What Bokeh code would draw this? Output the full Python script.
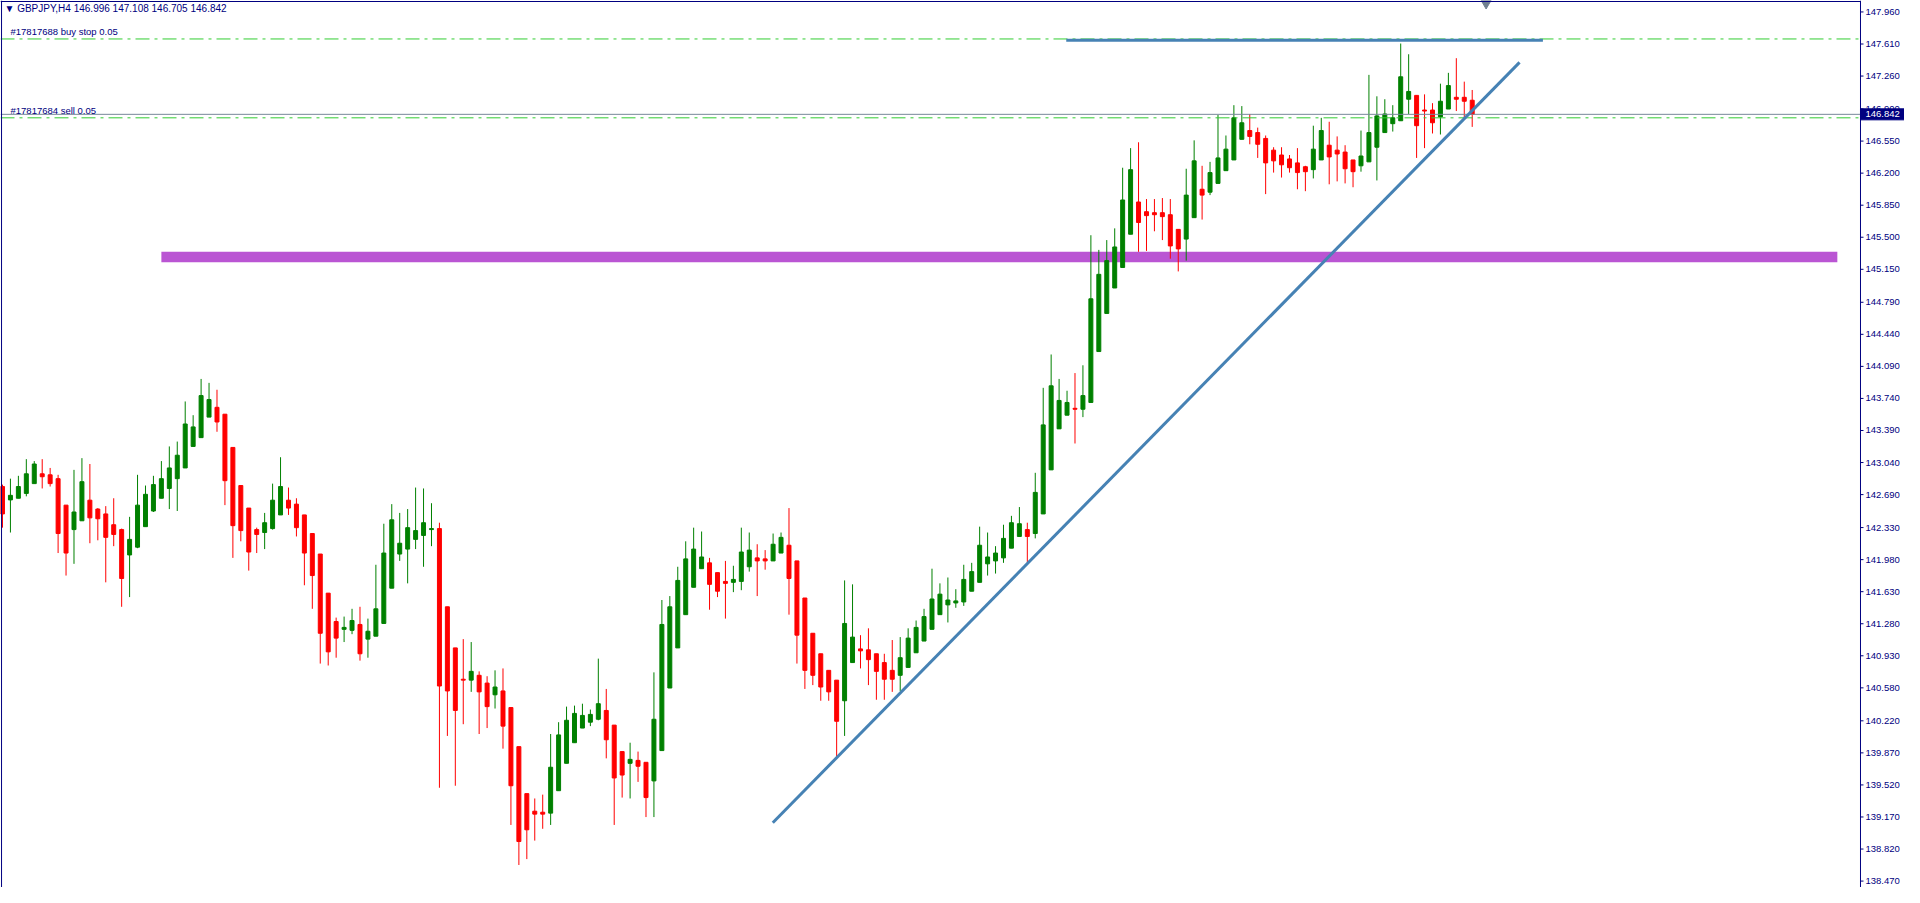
from bokeh.plotting import figure
from bokeh.models import Range1d, Span, Label, ColumnDataSource
from bokeh.core.properties import value
from bokeh.embed import file_html
from bokeh.resources import INLINE

symbol_header = "\u25BC GBPJPY,H4  146.996 147.108 146.705 146.842"

opens = [
142.778, 142.632, 142.650, 142.703, 142.810, 142.917, 142.906, 142.864, 142.575, 142.308,
142.404, 142.629, 142.532, 142.479, 142.361, 142.308, 142.031, 142.116, 142.340, 142.511,
142.650, 142.757, 142.864, 142.981, 143.216, 143.312, 143.536, 143.643, 143.568, 143.205,
142.789, 142.543, 142.308, 142.276, 142.319, 142.468, 142.629, 142.586, 142.468, 142.265,
142.041, 141.614, 141.304, 141.219, 141.208, 141.272, 141.112, 141.144, 141.283, 141.668,
142.041, 142.095, 142.201, 142.244, 142.308, 142.319, 141.465, 141.016, 140.674, 140.664,
140.717, 140.632, 140.504, 140.546, 140.365, 139.938, 139.425, 139.233, 139.222, 139.212,
139.457, 139.756, 139.981, 140.141, 140.205, 140.237, 140.333, 140.173, 139.884, 139.756,
139.788, 139.767, 139.564, 139.895, 140.578, 141.016, 141.379, 141.678, 141.881, 141.945,
141.838, 141.742, 141.732, 141.742, 141.902, 141.999, 141.988, 141.966, 142.052, 142.137,
141.966, 141.561, 141.176, 140.952, 140.771, 140.664, 140.439, 140.856, 141.005, 140.995,
140.952, 140.856, 140.771, 140.717, 140.803, 140.963, 141.091, 141.219, 141.379, 141.486,
141.507, 141.518, 141.635, 141.732, 141.934, 141.966, 141.999, 142.105, 142.233, 142.308,
142.265, 142.479, 142.960, 143.408, 143.557, 143.632, 143.622, 143.696, 144.252, 144.668,
144.946, 145.170, 145.533, 145.885, 145.779, 145.768, 145.768, 145.746, 145.586, 145.480,
145.714, 146.024, 145.992, 146.088, 146.227, 146.344, 146.569, 146.665, 146.643, 146.579,
146.451, 146.398, 146.355, 146.312, 146.270, 146.238, 146.344, 146.505, 146.451, 146.430,
146.344, 146.280, 146.323, 146.483, 146.643, 146.740, 146.772, 147.007, 147.049, 146.889,
146.889, 146.814, 146.900, 147.028, 147.028, 146.996]

highs = [
142.799, 142.864, 142.895, 143.077, 143.056, 143.077, 142.981, 142.906, 142.575, 142.960,
143.088, 143.024, 142.543, 142.564, 142.650, 142.319, 142.447, 142.906, 142.789, 142.895,
143.056, 143.216, 143.269, 143.707, 143.557, 143.953, 143.910, 143.835, 143.568, 143.205,
142.789, 142.543, 142.329, 142.490, 142.810, 143.098, 142.767, 142.650, 142.468, 142.265,
142.041, 141.614, 141.347, 141.358, 141.443, 141.465, 141.336, 141.924, 142.372, 142.586,
142.490, 142.532, 142.767, 142.757, 142.596, 142.383, 141.465, 141.016, 141.112, 141.080,
140.760, 140.707, 140.771, 140.792, 140.365, 139.938, 139.425, 139.372, 139.414, 140.076,
140.205, 140.375, 140.386, 140.407, 140.343, 140.899, 140.568, 140.173, 139.884, 139.981,
139.884, 139.767, 140.749, 141.539, 141.582, 141.902, 142.180, 142.329, 142.287, 141.999,
141.838, 141.966, 141.913, 142.329, 142.276, 142.148, 142.084, 142.265, 142.276, 142.543,
141.966, 141.561, 141.176, 140.952, 140.771, 140.664, 141.753, 141.710, 141.155, 141.230,
140.952, 140.952, 141.102, 141.134, 141.230, 141.315, 141.443, 141.881, 141.721, 141.785,
141.657, 141.924, 141.945, 142.340, 142.276, 142.127, 142.361, 142.458, 142.554, 142.383,
142.928, 143.856, 144.220, 143.953, 143.824, 144.017, 144.102, 145.522, 145.362, 145.469,
145.597, 146.259, 146.473, 146.537, 145.917, 145.917, 145.928, 145.917, 145.586, 146.248,
146.558, 146.280, 146.323, 146.836, 146.611, 146.942, 146.932, 146.846, 146.697, 146.611,
146.483, 146.483, 146.398, 146.473, 146.280, 146.718, 146.804, 146.761, 146.601, 146.505,
146.344, 146.665, 147.273, 147.039, 147.007, 146.942, 147.615, 147.498, 147.049, 147.060,
146.964, 147.177, 147.295, 147.455, 147.199, 147.108]

lows = [
142.329, 142.276, 142.650, 142.671, 142.810, 142.757, 142.778, 142.052, 141.806, 141.934,
142.404, 142.159, 142.191, 141.732, 142.127, 141.465, 141.571, 142.105, 142.340, 142.500,
142.650, 142.532, 142.511, 142.981, 143.216, 143.312, 143.536, 143.376, 142.575, 141.999,
142.180, 141.860, 142.052, 142.095, 142.308, 142.468, 142.468, 142.233, 141.700, 141.443,
140.845, 140.824, 140.909, 141.080, 141.166, 140.877, 140.909, 141.144, 141.283, 141.668,
141.966, 141.721, 142.095, 141.902, 142.127, 139.489, 140.055, 139.511, 140.183, 140.536,
140.076, 140.141, 140.354, 139.916, 139.083, 138.646, 138.710, 138.912, 139.041, 139.083,
139.457, 139.756, 139.981, 140.141, 140.162, 140.226, 139.810, 139.083, 139.382, 139.372,
139.553, 139.169, 139.169, 139.895, 140.578, 141.016, 141.379, 141.678, 141.881, 141.433,
141.571, 141.336, 141.625, 141.646, 141.849, 141.582, 141.870, 141.966, 142.052, 141.379,
140.845, 140.568, 140.610, 140.439, 140.439, 139.820, 140.055, 140.856, 140.792, 140.610,
140.450, 140.450, 140.536, 140.546, 140.803, 140.963, 141.091, 141.219, 141.379, 141.294,
141.454, 141.475, 141.635, 141.732, 141.806, 141.828, 141.945, 142.105, 142.233, 141.945,
142.212, 142.479, 142.960, 143.408, 143.557, 143.248, 143.536, 143.696, 144.252, 144.668,
144.946, 145.170, 145.533, 145.341, 145.351, 145.565, 145.469, 145.266, 145.127, 145.245,
145.714, 145.693, 145.960, 146.088, 146.227, 146.344, 146.569, 146.515, 146.366, 145.971,
146.206, 146.152, 146.206, 146.024, 146.003, 146.142, 146.344, 146.078, 146.110, 146.088,
146.046, 146.216, 146.323, 146.120, 146.643, 146.654, 146.772, 146.846, 146.366, 146.473,
146.633, 146.622, 146.900, 146.878, 146.804, 146.705]

closes = [
142.479, 142.682, 142.778, 142.917, 143.024, 142.885, 142.810, 142.265, 142.052, 142.500,
142.831, 142.436, 142.426, 142.223, 142.255, 141.774, 142.201, 142.575, 142.693, 142.799,
142.864, 142.981, 143.120, 143.461, 143.429, 143.771, 143.728, 143.483, 142.842, 142.351,
142.297, 142.063, 142.255, 142.383, 142.629, 142.778, 142.543, 142.329, 142.052, 141.806,
141.176, 140.973, 141.123, 141.240, 141.315, 140.952, 141.198, 141.443, 142.052, 142.415,
142.159, 142.329, 142.297, 142.383, 142.319, 140.600, 140.546, 140.333, 140.664, 140.760,
140.536, 140.375, 140.589, 140.162, 139.511, 138.902, 139.030, 139.201, 139.201, 139.713,
140.066, 140.226, 140.301, 140.279, 140.290, 140.407, 140.013, 139.596, 139.628, 139.799,
139.724, 139.382, 140.237, 141.272, 141.465, 141.753, 141.988, 142.095, 142.009, 141.710,
141.635, 141.721, 141.764, 142.063, 142.084, 141.966, 141.966, 142.148, 142.223, 141.774,
141.155, 140.771, 140.717, 140.589, 140.536, 140.215, 141.283, 141.134, 140.984, 140.888,
140.760, 140.674, 140.674, 140.909, 141.123, 141.240, 141.358, 141.550, 141.603, 141.539,
141.529, 141.764, 141.849, 142.137, 142.009, 142.052, 142.212, 142.383, 142.372, 142.233,
142.714, 143.451, 143.878, 143.718, 143.696, 143.622, 143.771, 144.828, 145.095, 145.245,
145.394, 145.907, 146.238, 145.661, 145.736, 145.746, 145.725, 145.405, 145.373, 145.960,
146.334, 145.960, 146.206, 146.366, 146.462, 146.804, 146.750, 146.601, 146.515, 146.312,
146.334, 146.291, 146.259, 146.206, 146.216, 146.462, 146.665, 146.377, 146.409, 146.248,
146.216, 146.387, 146.643, 146.825, 146.846, 146.804, 147.252, 147.092, 146.718, 146.878,
146.750, 146.985, 147.156, 147.007, 146.985, 146.842]

price_ticks = [147.960, 147.610, 147.260, 146.900, 146.550, 146.200, 145.850, 145.500,
               145.150, 144.790, 144.440, 144.090, 143.740, 143.390, 143.040, 142.690,
               142.330, 141.980, 141.630, 141.280, 140.930, 140.580, 140.220, 139.870,
               139.520, 139.170, 138.820, 138.470]
price_tick_labels = ["%.3f" % t for t in price_ticks]

bid_price = 146.842
bid_text = "146.842"
buy_stop_price = 147.665
buy_stop_text = "#17817688 buy stop 0.05"
sell_price = 146.804
sell_text = "#17817684 sell 0.05"

zone_bar_start, zone_bar_end = 20.0, 230.96
zone_low, zone_high = 145.226, 145.341

level_bar_start, level_bar_end = 133.9, 193.9
level_price = 147.650

trend_bars = [96.96, 190.96]
trend_prices = [139.107, 147.409]

shift_marker_bar = 186.75

NAVY = "#000080"
BULL = "#008000"
BEAR = "#FF0000"
STEEL = "#4682B4"
DASH_GREEN = "#32CD32"
FONT = value("Liberation Sans")

# geometry of the price scale (in bar units / prices)
W, H = 1904, 887
x_start = -0.25
axis_bar = 233.875          # position of the price-axis line
x_end = 239.414
y_bottom, y_top = 138.40, 148.085
px_per_bar = W / (x_end - x_start)
px_per_price = H / (y_top - y_bottom)

p = figure(width=W, height=H, output_backend="svg", toolbar_location=None,
           x_range=Range1d(x_start, x_end), y_range=Range1d(y_bottom, y_top),
           y_axis_location=None, x_axis_location=None,
           min_border_left=0, min_border_right=0, min_border_top=0, min_border_bottom=0,
           background_fill_color="white", border_fill_color="white")
p.outline_line_color = None
p.xgrid.visible = False
p.ygrid.visible = False

# support zone
p.quad(left=[zone_bar_start], right=[zone_bar_end], bottom=[zone_low], top=[zone_high],
       fill_color="#BA55D3", line_color=None)

# candles
n = len(opens)
xs = list(range(n))
colors = [BULL if c >= o else BEAR for o, c in zip(opens, closes)]
src = ColumnDataSource(dict(
    x=xs, high=highs, low=lows,
    top=[max(o, c) for o, c in zip(opens, closes)],
    bottom=[min(o, c) for o, c in zip(opens, closes)],
    color=colors))
p.segment(x0="x", y0="low", x1="x", y1="high", line_color="color", line_width=1, source=src)
p.vbar(x="x", width=0.5, top="top", bottom="bottom", fill_color="color",
       line_color="color", line_width=1, source=src)

# order / price lines (stop at the price axis)
p.segment(x0=[x_start, x_start], y0=[buy_stop_price, sell_price],
          x1=[axis_bar, axis_bar], y1=[buy_stop_price, sell_price],
          line_color=DASH_GREEN, line_width=1, line_dash="14 5 3 5")
p.segment(x0=[x_start], y0=[bid_price], x1=[axis_bar], y1=[bid_price],
          line_color="#778899", line_width=1)

# drawn objects
p.line(x=[level_bar_start, level_bar_end], y=[level_price, level_price],
       line_color=STEEL, line_width=3)
p.line(x=trend_bars, y=trend_prices, line_color=STEEL, line_width=3)

p.scatter(x=[shift_marker_bar], y=[y_top - 0.03], marker="inverted_triangle", size=10,
          fill_color="#708090", line_color="#708090")

# frame borders (top, left) and price axis line
p.segment(x0=[x_start + 0.13, x_start], y0=[y_bottom, y_top - 0.011],
          x1=[x_start + 0.13, axis_bar], y1=[y_top, y_top - 0.011],
          line_color=NAVY, line_width=1)
p.segment(x0=[axis_bar], y0=[y_bottom], x1=[axis_bar], y1=[y_top],
          line_color=NAVY, line_width=1)

# price axis ticks and labels
tick_len = 3 / px_per_bar
p.segment(x0=[axis_bar] * len(price_ticks), y0=price_ticks,
          x1=[axis_bar + tick_len] * len(price_ticks), y1=price_ticks,
          line_color=NAVY, line_width=1)
p.text(x=[axis_bar + 5 / px_per_bar] * len(price_ticks), y=price_ticks,
       text=price_tick_labels, text_font=FONT, text_font_size="9.5px",
       text_color=NAVY, text_baseline="middle", text_align="left")

# current price box on the axis
half_box = 5.5 / px_per_price
p.quad(left=[axis_bar], right=[x_end], bottom=[bid_price - half_box], top=[bid_price + half_box],
       fill_color=NAVY, line_color=NAVY)
p.text(x=[axis_bar + 5 / px_per_bar], y=[bid_price], text=[bid_text], text_font=FONT,
       text_font_size="9.5px", text_color="white", text_baseline="middle", text_align="left")

# texts
p.add_layout(Label(x=4, y=H - 2, x_units="screen", y_units="screen", text=symbol_header,
                   text_font="Liberation Sans", text_font_size="10px", text_color=NAVY,
                   text_baseline="top"))
p.add_layout(Label(x=10, y=buy_stop_price, x_units="screen", y_units="data", y_offset=2,
                   text=buy_stop_text, text_font="Liberation Sans", text_font_size="9.5px",
                   text_color=NAVY, text_baseline="bottom"))
p.add_layout(Label(x=10, y=sell_price, x_units="screen", y_units="data", y_offset=2,
                   text=sell_text, text_font="Liberation Sans", text_font_size="9.5px",
                   text_color=NAVY, text_baseline="bottom"))

open("out.html", "w").write(file_html(p, INLINE))
